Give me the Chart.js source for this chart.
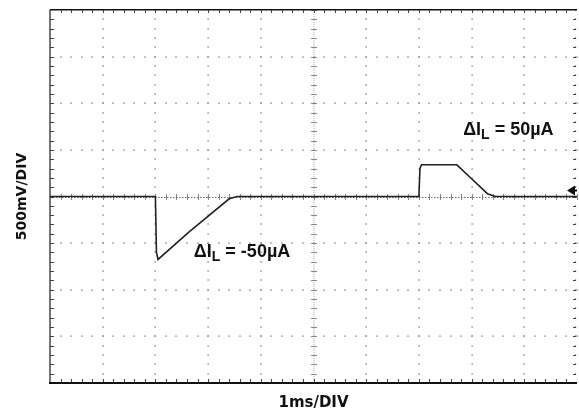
<!DOCTYPE html>
<html>
<head>
<meta charset="utf-8">
<script src="https://cdn.jsdelivr.net/npm/chart.js@4/dist/chart.umd.min.js"></script>
<style>
  html, body { margin: 0; padding: 0; background: #fff; overflow: hidden; }
  #wrap { width: 579px; height: 413px; }
</style>
</head>
<body>
<div id="wrap"><canvas id="scope" width="579" height="413"></canvas></div>
<script>
// trace, in divisions (x: 1ms/DIV, y: 500mV/DIV)
const timeDiv = [0, 2.0, 2.02, 2.05, 2.64, 3.4, 3.55, 7.0, 7.02, 7.05, 7.72, 8.0, 8.3, 8.45, 10];
const voltDiv = [0, 0, -1.2, -1.35, -0.76, -0.05, 0, 0, 0.6, 0.68, 0.68, 0.38, 0.06, 0, 0];

const xTitle = "1ms/DIV";
const yTitle = "500mV/DIV";

const notes = [
  { x: 2.73, y: -1.29, pre: "\u0394I", sub: "L", post: " = -50\u00b5A" },
  { x: 7.84, y: 1.31, pre: "\u0394I", sub: "L", post: " = 50\u00b5A" }
];

const points = timeDiv.map((t, i) => ({ x: t, y: voltDiv[i] }));

const graticule = {
  id: "graticule",
  beforeDatasetsDraw(chart) {
    const ctx = chart.ctx;
    const xs = chart.scales.x, ys = chart.scales.y;
    const a = chart.chartArea;
    const px = v => xs.getPixelForValue(v);
    const py = v => ys.getPixelForValue(v);
    ctx.save();

    // dotted grid lines
    ctx.fillStyle = "#999";
    for (let i = 1; i < 10; i++) {
      if (i === 5) continue;
      const x = Math.round(px(i));
      for (let m = -20; m <= 20; m++) {
        ctx.fillRect(x - 0.5, Math.round(py(m / 5)) - 1, 1.2, 2);
      }
    }
    for (let j = -3; j <= 3; j++) {
      if (j === 0) continue;
      const y = Math.round(py(j));
      for (let m = 0; m <= 50; m++) {
        ctx.fillRect(Math.round(px(m / 5)) - 1, y - 0.5, 2, 1.2);
      }
    }

    // center cross with minor ticks
    const cx = Math.round(px(5)), cy = Math.round(py(0));
    ctx.fillStyle = "#aaa";
    for (let yy = a.top; yy < a.bottom; yy += 2) ctx.fillRect(cx - 0.5, yy, 1, 1);
    ctx.fillStyle = "#888";
    for (let m = -20; m <= 20; m++) ctx.fillRect(cx - 3, Math.round(py(m / 5)), 6, 1);
    for (let m = 0; m <= 50; m++) ctx.fillRect(Math.round(px(m / 5)), cy - 3, 1, 6);
    ctx.fillStyle = "#666";
    for (let xx = a.left; xx < a.right; xx += 3) ctx.fillRect(xx, cy, 1.5, 1);

    // right edge dotted
    ctx.fillStyle = "#999";
    for (let m = -20; m <= 20; m++) ctx.fillRect(a.right - 2, Math.round(py(m / 5)) - 1, 1.2, 2);

    // frame
    ctx.fillStyle = "#777";
    ctx.fillRect(a.left - 1, a.top, 2, a.bottom - a.top);
    ctx.fillStyle = "#111";
    ctx.fillRect(a.left, a.top - 1, a.right - a.left, 1.5);
    ctx.fillRect(a.left - 1, a.bottom - 1, a.right - a.left + 1, 2);

    // edge ticks
    ctx.fillStyle = "#444";
    for (let m = -19; m <= 19; m++) {
      ctx.fillRect(a.left, Math.round(py(m / 5)), 4, 1);
      ctx.fillRect(a.right - 4, Math.round(py(m / 5)), 3, 1);
    }
    for (let m = 1; m < 50; m++) {
      const x = Math.round(px(m / 5));
      ctx.fillRect(x, a.bottom - 4, 1, 3);
      ctx.fillRect(x, a.top, 1, 3);
    }
    ctx.restore();
  },
  afterDatasetsDraw(chart) {
    const ctx = chart.ctx;
    const xs = chart.scales.x, ys = chart.scales.y;
    ctx.save();
    // ground marker
    const gy = ys.getPixelForValue(0) - 6;
    const gx = chart.chartArea.right - 10;
    ctx.fillStyle = "#111";
    ctx.beginPath();
    ctx.moveTo(gx, gy);
    ctx.lineTo(gx + 8, gy - 5);
    ctx.lineTo(gx + 8, gy + 5);
    ctx.closePath();
    ctx.fill();
    ctx.fillRect(gx + 6, gy - 1, 4, 2);

    // annotations
    ctx.fillStyle = "#111";
    ctx.textBaseline = "alphabetic";
    notes.forEach(n => {
      let x = xs.getPixelForValue(n.x);
      const y = ys.getPixelForValue(n.y);
      ctx.font = "bold 18px 'Liberation Sans', Arial, sans-serif";
      ctx.fillText(n.pre, x, y);
      x += ctx.measureText(n.pre).width;
      ctx.font = "bold 14px 'Liberation Sans', Arial, sans-serif";
      ctx.fillText(n.sub, x, y + 4);
      x += ctx.measureText(n.sub).width;
      ctx.font = "bold 18px 'Liberation Sans', Arial, sans-serif";
      ctx.fillText(n.post, x, y);
    });
    ctx.restore();
  }
};

new Chart(document.getElementById("scope"), {
  type: "line",
  data: {
    datasets: [{
      data: points,
      borderColor: "#222",
      borderWidth: 1.6,
      pointRadius: 0,
      tension: 0,
      fill: false
    }]
  },
  options: {
    responsive: false,
    animation: false,
    events: [],
    layout: { padding: { top: 10, right: 2, left: 0, bottom: 0 } },
    plugins: { legend: { display: false }, tooltip: { enabled: false } },
    scales: {
      x: {
        type: "linear",
        min: 0,
        max: 10,
        ticks: { display: false },
        grid: { display: false },
        border: { display: false },
        title: {
          display: true,
          text: xTitle,
          color: "#111",
          font: { family: "'DejaVu Sans', sans-serif", size: 15, weight: "bold" },
          padding: { top: 0, bottom: 1 }
        },
        afterFit(scale) { scale.height = 30; }
      },
      y: {
        type: "linear",
        min: -4,
        max: 4,
        ticks: { display: false },
        grid: { display: false },
        border: { display: false },
        title: {
          display: true,
          text: yTitle,
          color: "#111",
          font: { family: "'DejaVu Sans', sans-serif", size: 14, weight: "bold" },
          padding: { top: 14, bottom: 0 }
        },
        afterFit(scale) { scale.width = 50; }
      }
    }
  },
  plugins: [graticule]
});
</script>
</body>
</html>
